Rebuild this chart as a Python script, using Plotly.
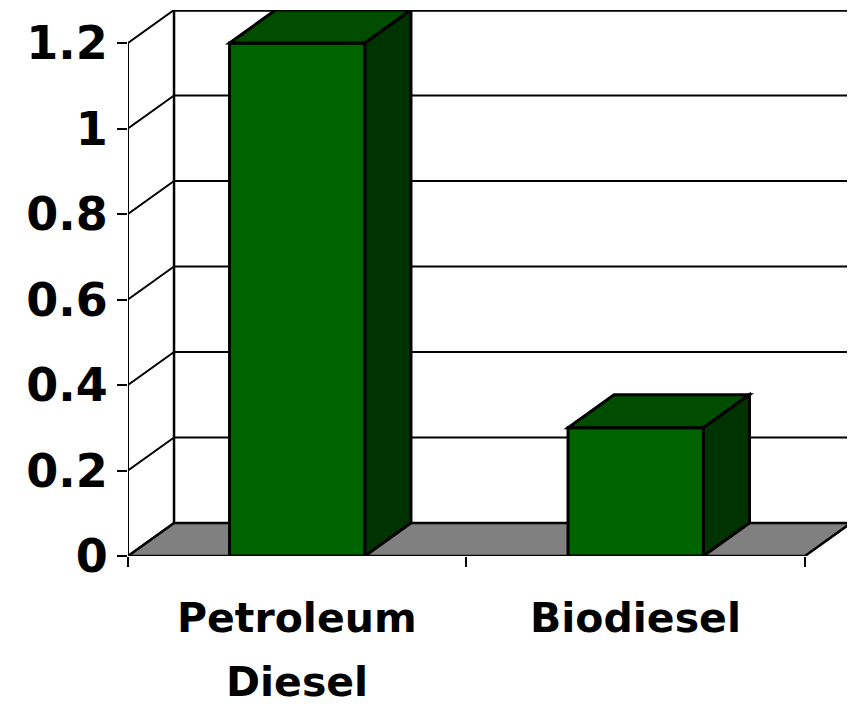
import plotly.graph_objects as go

# ---- data ----
categories = ["Petroleum Diesel", "Biodiesel"]
label_lines = [["Petroleum", "Diesel"], ["Biodiesel"]]
values = [1.2, 0.3]
y_ticks = [0, 0.2, 0.4, 0.6, 0.8, 1.0, 1.2]
y_tick_text = ["0", "0.2", "0.4", "0.6", "0.8", "1", "1.2"]

# ---- style ----
DX = 0.136      # depth offset in x units
DY = 0.0772     # depth offset in y units
BAR_W = 0.4
FRONT = "#006400"
TOP = "#004d00"
SIDE = "#003300"
FLOOR = "#808080"
LINE = "black"

xpos = list(range(len(categories)))
x0 = xpos[0] - 0.5
x1 = xpos[-1] + 0.5
ymax = y_ticks[-1]

fig = go.Figure()
fig.add_trace(go.Bar(
    x=xpos, y=values, width=BAR_W,
    marker=dict(color=FRONT, line=dict(color=LINE, width=3)),
    hoverinfo="skip", showlegend=False,
))

shapes = []
# floor
shapes.append(dict(type="path", layer="below",
                   path=f"M {x0},0 L {x1},0 L {x1+DX},{DY} L {x0+DX},{DY} Z",
                   fillcolor=FLOOR, line=dict(color=LINE, width=2.5)))
# back wall gridlines
for v in y_ticks[1:]:
    shapes.append(dict(type="line", layer="below", x0=x0 + DX, x1=x1 + DX, y0=v + DY, y1=v + DY,
                       line=dict(color=LINE, width=3.5 if v == ymax else 2)))
# back wall verticals
for xv in (x0 + DX, x1 + DX):
    shapes.append(dict(type="line", layer="below", x0=xv, x1=xv, y0=DY, y1=ymax + DY,
                       line=dict(color=LINE, width=2.5)))
# left side-wall diagonals
for v in y_ticks:
    shapes.append(dict(type="line", layer="below", x0=x0, x1=x0 + DX, y0=v, y1=v + DY,
                       line=dict(color=LINE, width=2)))
# front vertical axis
shapes.append(dict(type="line", layer="below", x0=x0, x1=x0, y0=0, y1=ymax,
                   line=dict(color=LINE, width=2)))
# bar top and side faces
for xc, v in zip(xpos, values):
    a = xc - BAR_W / 2
    b = xc + BAR_W / 2
    shapes.append(dict(type="path", layer="above",
                       path=f"M {a},{v} L {b},{v} L {b+DX},{v+DY} L {a+DX},{v+DY} Z",
                       fillcolor=TOP, line=dict(color=LINE, width=3)))
    shapes.append(dict(type="path", layer="above",
                       path=f"M {b},0 L {b},{v} L {b+DX},{v+DY} L {b+DX},{DY} Z",
                       fillcolor=SIDE, line=dict(color=LINE, width=3)))

annotations = []
for xc, lines in zip(xpos, label_lines):
    for i, t in enumerate(lines):
        annotations.append(dict(x=xc, xref="x", y=0, yref="paper", yanchor="middle",
                                yshift=-62 - 64 * i, text=t, showarrow=False,
                                font=dict(family="DejaVu Sans", size=41, color="black", weight="bold")))

fig.update_layout(
    width=855, height=719,
    margin=dict(l=120, r=12, t=2, b=171, autoexpand=False),
    paper_bgcolor="white", plot_bgcolor="white",
    shapes=shapes, annotations=annotations,
    xaxis=dict(range=[x0, x1 + DX], tickvals=[x0 + i for i in range(len(categories) + 1)],
               ticks="outside", ticklen=10, tickwidth=2, tickcolor=LINE,
               showticklabels=False, showgrid=False, zeroline=False, showline=False,
               fixedrange=True, automargin=False),
    yaxis=dict(range=[0, ymax + DY], tickvals=y_ticks, ticktext=y_tick_text,
               ticks="outside", ticklen=10, tickwidth=2, tickcolor=LINE,
               tickfont=dict(family="DejaVu Sans", size=46, color="black", weight="bold"),
               showgrid=False, zeroline=False, showline=False, fixedrange=True,
               automargin=False),
)

fig.write_html("out.html")
